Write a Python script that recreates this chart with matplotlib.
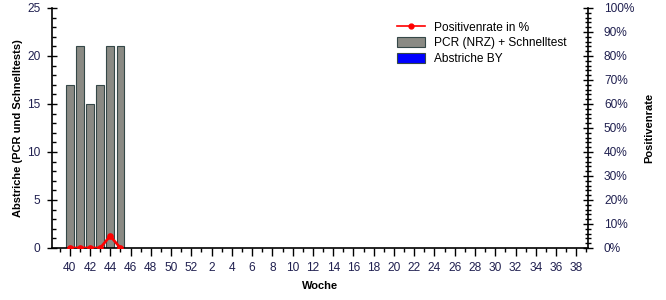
import matplotlib.pyplot as plt
from matplotlib.ticker import MultipleLocator, FixedLocator, PercentFormatter
from matplotlib.patches import Patch
from matplotlib.lines import Line2D

plt.rcParams['font.family'] = ['Liberation Sans', 'DejaVu Sans']

# calendar weeks on the x axis (season 40 .. 39)
weeks = list(range(40, 53)) + list(range(1, 40))
# Abstriche PCR (NRZ) + Schnelltest, weeks 40-45
pcr_weeks = [40, 41, 42, 43, 44, 45]
pcr_values = [17, 21, 15, 17, 21, 21]
# Abstriche BY (none reported)
by_values = [0, 0, 0, 0, 0, 0]
# Positivenrate in %
rate_weeks = [40, 41, 42, 43, 44, 45]
rate_values = [0, 0, 0, 0, 5, 0]

tick_color = '#202050'
bar_color = '#8a8a84'
edge_color = '#354848'

fig = plt.figure(figsize=(6.66, 3.0), dpi=100)
ax = fig.add_axes([52 / 666, 1 - 248 / 300, 536 / 666, 240 / 300])

pcr_pos = [weeks.index(w) for w in pcr_weeks]
rate_pos = [weeks.index(w) for w in rate_weeks]

ax.bar(pcr_pos, pcr_values, width=0.75, color=bar_color, edgecolor=edge_color, linewidth=0.8, zorder=2)
ax.bar(pcr_pos, by_values, width=0.75, color='#0000ff', edgecolor=edge_color, linewidth=0, zorder=2)

ax.set_xlim(-1.75, 51.15)
ax.set_ylim(0, 25)
ax.xaxis.set_major_locator(FixedLocator(range(0, len(weeks), 2)))
ax.set_xticklabels([str(w) for w in weeks[::2]])
ax.xaxis.set_minor_locator(FixedLocator(range(-1, len(weeks))))
ax.yaxis.set_major_locator(MultipleLocator(5))
ax.yaxis.set_minor_locator(MultipleLocator(1))

ax.tick_params(axis='x', which='major', direction='out', length=6, width=1, pad=4,
               labelsize=8.6, labelcolor=tick_color)
ax.tick_params(axis='x', which='minor', direction='out', length=3, width=1)
ax.tick_params(axis='y', which='major', direction='inout', length=7, width=1, pad=5,
               labelsize=8.6, labelcolor=tick_color)
ax.tick_params(axis='y', which='minor', direction='in', length=3, width=1)

for side in ['top', 'right']:
    ax.spines[side].set_visible(False)
for side in ['left', 'bottom']:
    ax.spines[side].set_linewidth(1.2)

ax.set_xlabel('Woche', fontsize=8, fontweight='bold', labelpad=5)
ax.set_ylabel('Abstriche (PCR und Schnelltests)', fontsize=8, fontweight='bold', labelpad=3)

ax2 = ax.twinx()
ax2.plot(rate_pos, rate_values, color='#ff0000', linewidth=1.9, marker='o', markersize=3.8, zorder=3)
ax2.set_ylim(0, 100)
ax2.yaxis.set_major_locator(MultipleLocator(10))
ax2.yaxis.set_minor_locator(MultipleLocator(2))
ax2.yaxis.set_major_formatter(PercentFormatter(decimals=0))
ax2.tick_params(axis='y', which='major', direction='inout', length=7, width=1, pad=8,
                labelsize=8.6, labelcolor=tick_color)
ax2.tick_params(axis='y', which='minor', direction='inout', length=4, width=1)
for side in ['top', 'left', 'bottom']:
    ax2.spines[side].set_visible(False)
ax2.spines['right'].set_linewidth(1.2)
ax2.set_ylabel('Positivenrate', fontsize=8, fontweight='bold', labelpad=7)

handles = [
    Line2D([0], [0], color='#ff0000', linewidth=1.2, marker='o', markersize=3.5),
    Patch(facecolor=bar_color, edgecolor=edge_color, linewidth=0.8),
    Patch(facecolor='#0000ff', edgecolor=edge_color, linewidth=0.8),
]
labels = ['Positivenrate in %', 'PCR (NRZ) + Schnelltest', 'Abstriche BY']
fig.legend(handles, labels, loc='upper left', bbox_to_anchor=(392 / 666, 1 - 17 / 300),
           frameon=False, fontsize=8.6, handlelength=2.4, handleheight=0.85,
           handletextpad=0.7, labelspacing=0.3, borderaxespad=0)

fig.savefig('out.png', dpi=100)
